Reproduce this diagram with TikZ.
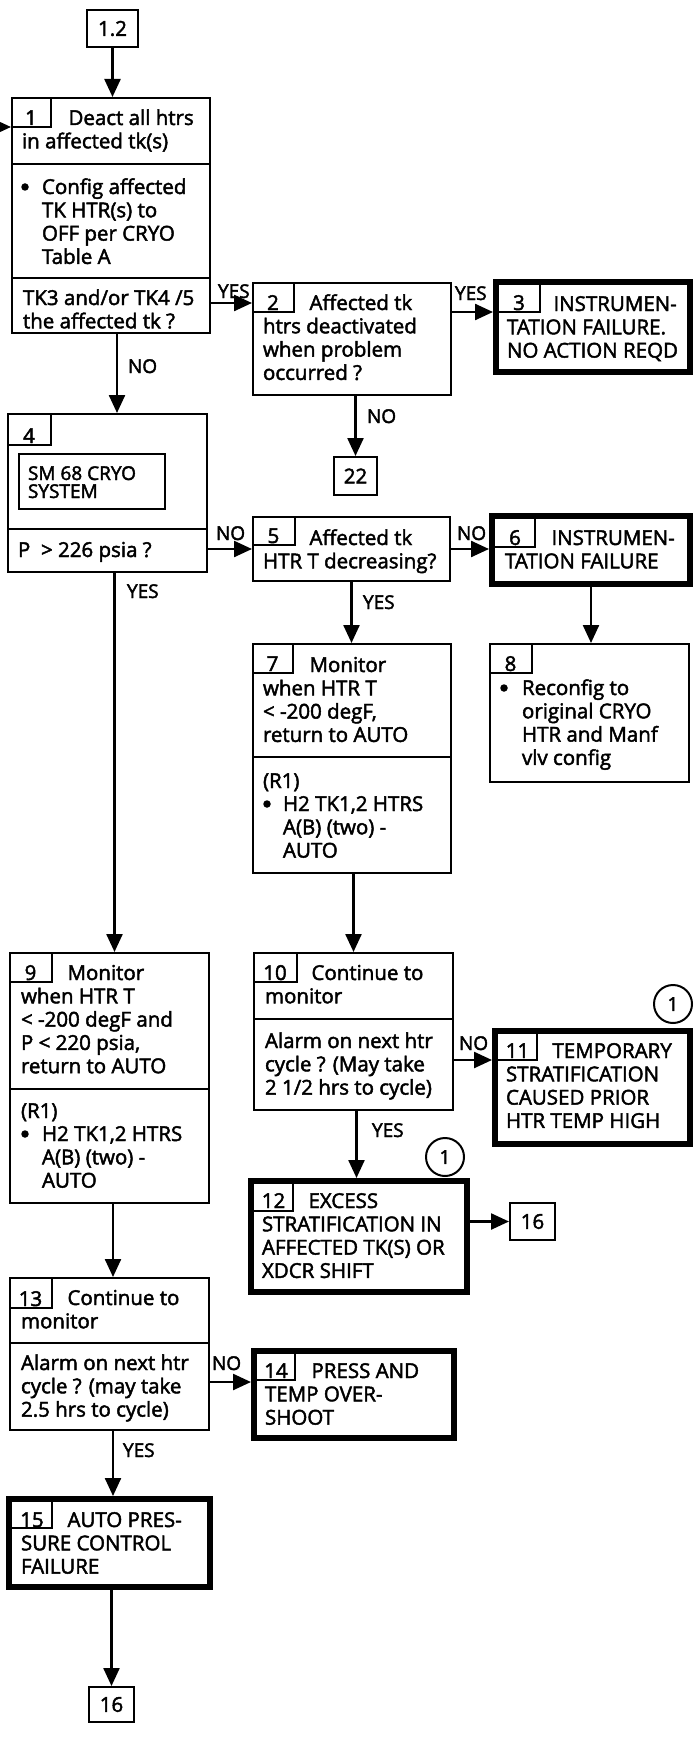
\documentclass[tikz,border=0pt]{standalone}
\usepackage{fontspec}
\setmainfont{Open Sans}[FakeBold=2.2]
\usetikzlibrary{arrows.meta}
\newcommand\ind{\hspace*{46.5pt}}
\newcommand\thinbx[5]{\node[thinbox, minimum width={#4-#2-2.4}, minimum height={#5-#3-2.4}] (#1) at (#2,#3) {};}
\newcommand\thickbx[5]{\node[thickbox, minimum width={#4-#2-6}, minimum height={#5-#3-6}] (#1) at (#2,#3) {};}
\newcommand\refbx[6]{\node[refbox, minimum width={#4-#2-2.4}, minimum height={#5-#3-2.4}] (#1) at (#2,#3) {#6};}
\tikzset{
  every node/.style={inner sep=0pt, outer sep=0pt},
  txt/.style={anchor=base west, font=\fontsize{20.5}{23.3}\selectfont},
  tight/.style={anchor=base west, font=\fontsize{19}{18}\selectfont},
  num/.style={anchor=base, font=\fontsize{20.5}{23.3}\selectfont},
  lbl/.style={anchor=base west, font=\fontsize{19}{22}\selectfont},
  dot/.style={circle, fill, minimum size=7.5pt},
  thinbox/.style={draw, line width=2.4pt, anchor=north west, inner sep=0pt, outer sep=1.2pt},
  thickbox/.style={draw, line width=6pt, anchor=north west, inner sep=0pt, outer sep=3pt},
  refbox/.style={draw, line width=2.4pt, anchor=north west, inner sep=0pt, outer sep=1.2pt, font=\fontsize{20.5}{23.3}\selectfont},
  innerbox/.style={draw, line width=2pt, anchor=north west, inner sep=0pt, outer sep=1pt},
  tabline/.style={line width=2pt},
  divline/.style={line width=2.4pt},
  arr/.style={line width=2.4pt, -{Triangle[length=18pt,width=16pt]}},
  note/.style={draw, circle, line width=2pt, minimum size=38pt, font=\fontsize{19}{22}\selectfont},
}
\begin{document}
\begin{tikzpicture}[x=1pt,y=-1pt]
\useasboundingbox (0,0) rectangle (694,1739);
\clip (0,0) rectangle (694,1739);
\fill[white] (0,0) rectangle (694,1739);

% ---------- reference boxes
\refbx{r12}{86}{9}{139}{48}{1.2}
\refbx{r22}{333}{456}{378}{496}{22}
\refbx{r16a}{509}{1202}{556}{1241}{16}
\refbx{r16b}{88}{1686}{135}{1723}{16}

% ---------- box 1
\thinbx{b1}{11}{97}{211}{334}
\draw[tabline] (11,127) -| (51,97);
\node[num] (n1) at (31,125) {1};
\node[txt] (t1a) at (22,125) {\vtop{\hbox{\ind Deact all htrs}\hbox{in affected tk(s)}}};
\draw[divline] (11,164) -- (211,164);
\node[dot] (u1) at (25,187) {};
\node[txt] (t1b) at (42,194) {\vtop{\hbox{Config affected}\hbox{TK HTR(s) to}\hbox{OFF per CRYO}\hbox{Table A}}};
\draw[divline] (11,278) -- (211,278);
\node[txt] (q1) at (23,305) {\vtop{\hbox{TK3 and/or TK4 /5}\hbox{the affected tk ?}}};

% ---------- box 2
\thinbx{b2}{252}{282}{452}{396}
\draw[tabline] (252,312) -| (294,282);
\node[num] (n2) at (273,310) {2};
\node[txt] (t2) at (263,310) {\vtop{\hbox{\ind Affected tk}\hbox{htrs deactivated}\hbox{when problem}\hbox{occurred ?}}};

% ---------- box 3
\thickbx{b3}{493}{279}{693}{375}
\draw[tabline] (496,312) -| (540,282);
\node[num] (n3) at (519,310) {3};
\node[txt] (t3) at (507,311) {\vtop{\hbox{\ind INSTRUMEN-}\hbox{TATION FAILURE.}\hbox{NO ACTION REQD}}};

% ---------- box 4
\thinbx{b4}{7}{413}{208}{573}
\draw[tabline] (7,445) -| (51,413);
\node[num] (n4) at (29,443) {4};
\node[innerbox, minimum width=146, minimum height=55] (sm) at (18,453) {};
\node[tight] (t4) at (28,480) {\vtop{\hbox{SM 68 CRYO}\hbox{SYSTEM}}};
\draw[divline] (7,529) -- (208,529);
\node[txt] (q4) at (18,557) {P\ \ > 226 psia ?};

% ---------- box 5
\thinbx{b5}{252}{516}{451}{582}
\draw[tabline] (252,545) -| (295,516);
\node[num] (n5) at (273.5,543) {5};
\node[txt] (t5) at (263,545) {\vtop{\hbox{\ind Affected tk}\hbox{HTR T decreasing?}}};

% ---------- box 6
\thickbx{b6}{489}{513}{693}{587}
\draw[tabline] (492,547) -| (535,516);
\node[num] (n6) at (515,545) {6};
\node[txt] (t6) at (505,545) {\vtop{\hbox{\ind INSTRUMEN-}\hbox{TATION FAILURE}}};

% ---------- box 8
\thinbx{b8}{489}{643}{690}{783}
\draw[tabline] (489,673) -| (532,643);
\node[num] (n8) at (510.5,671) {8};
\node[dot] (u8) at (504,688) {};
\node[txt] (t8) at (522,695) {\vtop{\hbox{Reconfig to}\hbox{original CRYO}\hbox{HTR and Manf}\hbox{vlv config}}};

% ---------- box 7
\thinbx{b7}{252}{643}{452}{874}
\draw[tabline] (252,673) -| (293,643);
\node[num] (n7) at (272.5,671) {7};
\node[txt] (t7a) at (263,672) {\vtop{\hbox{\ind Monitor}\hbox{when HTR T}\hbox{< -200 degF,}\hbox{return to AUTO}}};
\draw[divline] (252,757) -- (452,757);
\node[txt] (r7) at (263,788) {(R1)};
\node[dot] (u7) at (267,804) {};
\node[txt] (t7b) at (283,811) {\vtop{\hbox{H2 TK1,2 HTRS}\hbox{A(B) (two) -}\hbox{AUTO}}};

% ---------- box 9
\thinbx{b9}{9}{952}{210}{1204}
\draw[tabline] (9,982) -| (52,952);
\node[num] (n9) at (30.5,980) {9};
\node[txt] (t9a) at (21,980) {\vtop{\hbox{\ind Monitor}\hbox{when HTR T}\hbox{< -200 degF and}\hbox{P < 220 psia,}\hbox{return to AUTO}}};
\draw[divline] (9,1089) -- (210,1089);
\node[txt] (r9) at (21,1118) {(R1)};
\node[dot] (u9) at (25,1134) {};
\node[txt] (t9b) at (42,1141) {\vtop{\hbox{H2 TK1,2 HTRS}\hbox{A(B) (two) -}\hbox{AUTO}}};

% ---------- box 10
\thinbx{b10}{253}{952}{454}{1111}
\draw[tabline] (253,982) -| (297,952);
\node[num] (n10) at (275,980) {10};
\node[txt] (t10a) at (265,980) {\vtop{\hbox{\ind Continue to}\hbox{monitor}}};
\draw[divline] (253,1019) -- (454,1019);
\node[txt] (q10) at (265,1048) {\vtop{\hbox{Alarm on next htr}\hbox{cycle ? (May take}\hbox{2 1/2 hrs to cycle)}}};

% ---------- box 11
\thickbx{b11}{492}{1028}{693}{1147}
\draw[tabline] (495,1060) -| (537,1031);
\node[num] (n11) at (517.5,1058) {11};
\node[txt] (t11) at (506,1058) {\vtop{\hbox{\ind TEMPORARY}\hbox{STRATIFICATION}\hbox{CAUSED PRIOR}\hbox{HTR TEMP HIGH}}};
\node[note] (c11) at (673,1004) {1};

% ---------- box 12
\thickbx{b12}{248}{1178}{470}{1295}
\draw[tabline] (251,1211) -| (293,1181);
\node[num] (n12) at (273.5,1208) {12};
\node[txt] (t12) at (262,1208) {\vtop{\hbox{\ind EXCESS}\hbox{STRATIFICATION IN}\hbox{AFFECTED TK(S) OR}\hbox{XDCR SHIFT}}};
\node[note] (c12) at (445,1157) {1};

% ---------- box 13
\thinbx{b13}{9}{1277}{210}{1431}
\draw[tabline] (9,1308) -| (52,1277);
\node[num] (n13) at (30.5,1306) {13};
\node[txt] (t13a) at (21,1305) {\vtop{\hbox{\ind Continue to}\hbox{monitor}}};
\draw[divline] (9,1343) -- (210,1343);
\node[txt] (q13) at (21,1370) {\vtop{\hbox{Alarm on next htr}\hbox{cycle ? (may take}\hbox{2.5 hrs to cycle)}}};

% ---------- box 14
\thickbx{b14}{251}{1348}{457}{1441}
\draw[tabline] (254,1380) -| (295,1351);
\node[num] (n14) at (276,1378) {14};
\node[txt] (t14) at (265,1378) {\vtop{\hbox{\ind PRESS AND}\hbox{TEMP OVER-}\hbox{SHOOT}}};

% ---------- box 15
\thickbx{b15}{6}{1496}{213}{1590}
\draw[tabline] (9,1528) -| (52,1499);
\node[num] (n15) at (32,1527) {15};
\node[txt] (t15) at (21,1527) {\vtop{\hbox{\ind AUTO PRES-}\hbox{SURE CONTROL}\hbox{FAILURE}}};

% ---------- connectors
\coordinate (ein) at (-20,127);
\draw[arr] (r12.south) -- (r12.south |- b1.north);
\draw[arr] (ein) -- (ein -| b1.west);
\draw[arr] ([yshift=-21pt]b2.north west -| b1.east) -- ([yshift=-21pt]b2.north west);
\draw[arr] ([yshift=-30pt]b2.north east) -- ([yshift=-30pt]b2.north east -| b3.west);
\draw[arr] (r22.north |- b2.south) -- (r22.north);
\draw[arr] ([xshift=6pt]b1.south) -- ([xshift=6pt]b1.south |- b4.north);
\draw[arr] (b5.west -| b4.east) -- (b5.west);
\draw[arr] ([xshift=7pt]b4.south) -- ([xshift=7pt]b4.south |- b9.north);
\draw[arr] (b5.east) -- (b5.east -| b6.west);
\draw[arr] (b5.south) -- (b5.south |- b7.north);
\draw[arr] (b6.south) -- (b6.south |- b8.north);
\draw[arr] (b10.north |- b7.south) -- (b10.north);
\draw[arr] ([yshift=-108pt]b10.north east) -- ([yshift=-108pt]b10.north east -| b11.west);
\draw[arr] ([xshift=3pt]b10.south) -- ([xshift=3pt]b10.south |- b12.north);
\draw[arr] (r16a.west -| b12.east) -- (r16a.west);
\draw[arr] ([xshift=3.5pt]b9.south) -- ([xshift=3.5pt]b9.south |- b13.north);
\draw[arr] ([yshift=-105pt]b13.north east) -- ([yshift=-105pt]b13.north east -| b14.west);
\draw[arr] ([xshift=3.5pt]b13.south) -- ([xshift=3.5pt]b13.south |- b15.north);
\draw[arr] (r16b.north |- b15.south) -- (r16b.north);

% ---------- labels
\node[lbl] (l1) at (218,298) {YES};
\node[lbl] (l2) at (455,300) {YES};
\node[lbl] (l3) at (367,423) {NO};
\node[lbl] (l4) at (128,373) {NO};
\node[lbl] (l5) at (216,540) {NO};
\node[lbl] (l6) at (127,598) {YES};
\node[lbl] (l7) at (457,540) {NO};
\node[lbl] (l8) at (363,609) {YES};
\node[lbl] (l9) at (459,1050) {NO};
\node[lbl] (l10) at (372,1137) {YES};
\node[lbl] (l11) at (212,1370) {NO};
\node[lbl] (l12) at (123,1457) {YES};
\end{tikzpicture}
\end{document}
